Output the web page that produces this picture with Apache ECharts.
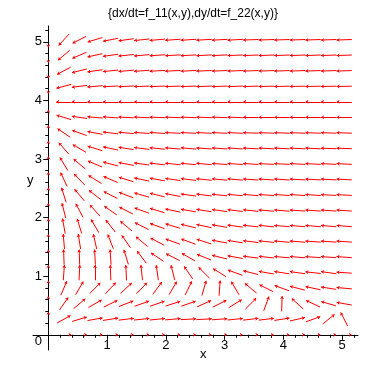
<!DOCTYPE html>
<html><head><meta charset="utf-8">
<script src="https://cdn.jsdelivr.net/npm/echarts@6/dist/echarts.min.js"></script>
<style>html,body{margin:0;padding:0;background:#fff}#c{width:386px;height:367px}</style>
</head><body><div id="c"></div>
<script>
const chartTitle = '{dx/dt=f_11(x,y),dy/dt=f_22(x,y)}';
const xName = 'x';
const yName = 'y';
// sample points of the direction field: i*step, k*step, i,k = 0..19
const step = 0.265;
const xMajorTicks = [1, 2, 3, 4, 5];
const yMajorTicks = [0, 1, 2, 3, 4, 5];
const minorTicks = [0.2,0.4,0.6,0.8,1.2,1.4,1.6,1.8,2.2,2.4,2.6,2.8,3.2,3.4,3.6,3.8,4.2,4.4,4.6,4.8,5.2];
// arrow direction (degrees, 0 = +x, 90 = +y) per row k (y = k*step), columns i = 0..19
const row00 = [null,0,0,0,0,0,0,0,0,0,0,0,0,0,0,0,0,0,0,0];
const row01 = [90,29,17,10,9,7,6,6,5,3,3,4,6,7,7,9,13,20,39,117];
const row02 = [90,55,40,30,26,21,20,19,18,19,24,27,32,45,70,88,137,155,164,170];
const row03 = [90,67,60,45,47,43,46,54,60,64,74,86,120,140,153,160,165,168,171,175];
const row04 = [90,86,87,90,92,93,96,98,104,124,135,148,160,166,170,171,172,174,172,176];
const row05 = [90,92,92,93,94,107,127,146,153,150,158,166,170,173,174,175,175,176,176,176];
const row06 = [90,95,99,103,111,125,140,152,160,160,162,169,171,173,174,175,175,176,176,176];
const row07 = [90,100,107,120,128,140,153,160,163,166,168,170,172,174,174,175,175,175,175,175];
const row08 = [90,104,118,132,145,153,160,163,168,170,171,172,173,174,175,175,176,176,176,176];
const row09 = [90,107,130,142,153,159,164,166,169,172,173,174,175,175,176,176,176,176,177,177];
const row10 = [90,115,134,148,157,163,168,170,172,173,174,175,175,176,176,176,177,177,177,177];
const row11 = [90,121,140,157,165,169,172,173,174,175,175,176,176,176,177,177,177,177,177,177];
const row12 = [90,131,150,163,168,171,173,174,175,175,176,176,176,177,177,177,177,177,178,178];
const row13 = [90,146,160,169,173,175,176,176,177,177,177,177,177,178,178,178,178,178,178,178];
const row14 = [90,163,172,175,176,177,177,178,178,178,178,178,178,179,179,179,179,179,179,179];
const row15 = [null,180,180,180,180,180,180,180,180,180,180,180,180,180,180,180,180,180,180,180];
const row16 = [270,195,187,185,183,183,182,182,182,182,182,182,182,182,181,181,181,181,181,181];
const row17 = [270,208,194,188,186,185,184,183,183,183,182,182,182,182,182,182,182,182,182,182];
const row18 = [270,220,203,192,188,186,185,184,183,183,183,183,182,182,182,182,182,182,182,182];
const row19 = [270,228,207,197,191,188,186,185,184,184,183,183,183,182,182,182,182,182,182,182];

const rows = [row00,row01,row02,row03,row04,row05,row06,row07,row08,row09,
              row10,row11,row12,row13,row14,row15,row16,row17,row18,row19];
const half = step * 0.49;
const arrows = [];      // arrows inside the quadrant
const onAxis = [];      // arrows lying on the axes (shaft hidden by the axis line)
rows.forEach((row, k) => row.forEach((deg, i) => {
  if (deg == null) return;
  const x = i * step, y = k * step, r = deg * Math.PI / 180;
  const item = {coords: [[x - half * Math.cos(r), y - half * Math.sin(r)],
                         [x + half * Math.cos(r), y + half * Math.sin(r)]]};
  (i === 0 || k === 0 ? onAxis : arrows).push(item);
}));

const font = 'Liberation Sans, Arial, sans-serif';
const chart = echarts.init(document.getElementById('c'), null, {renderer: 'canvas'});
const axisBase = (min, max) => ({type: 'value', min, max, splitLine: {show: false}, z: 10});
chart.setOption({
  animation: false,
  backgroundColor: '#fff',
  title: {text: chartTitle, left: 'center', top: 3,
          textStyle: {fontSize: 12, fontWeight: 'normal', color: '#000', fontFamily: font}},
  grid: {left: 33, right: 28, top: 26, bottom: 17, containLabel: false},
  xAxis: [
    Object.assign(axisBase(-0.26, 5.27), {position: 'bottom',
      axisLine: {onZero: true, onZeroAxisIndex: 0, lineStyle: {color: '#000', width: 1}},
      axisTick: {customValues: xMajorTicks, length: 5, lineStyle: {color: '#000'}},
      axisLabel: {customValues: xMajorTicks, margin: -11, color: '#000', fontSize: 13, fontFamily: font}}),
    Object.assign(axisBase(-0.26, 5.27), {position: 'bottom',
      axisLine: {show: false, onZero: true, onZeroAxisIndex: 0},
      axisTick: {customValues: minorTicks, length: 3, lineStyle: {color: '#000'}},
      axisLabel: {show: false}})
  ],
  yAxis: [
    Object.assign(axisBase(-0.26, 5.27), {position: 'left',
      axisLine: {onZero: true, onZeroAxisIndex: 0, lineStyle: {color: '#000', width: 1}},
      axisTick: {customValues: yMajorTicks.filter(v => v !== 0), length: 5, lineStyle: {color: '#000'}},
      axisLabel: {customValues: yMajorTicks, margin: -9, color: '#000', fontSize: 13, fontFamily: font,
        formatter: v => v === 0 ? '{z|0}' : String(v),
        rich: {z: {padding: [13, 0, 0, 0], fontSize: 13, fontFamily: font, color: '#000'}}}}),
    Object.assign(axisBase(-0.26, 5.27), {position: 'left',
      axisLine: {show: false, onZero: true, onZeroAxisIndex: 0},
      axisTick: {customValues: minorTicks, length: 3, lineStyle: {color: '#000'}},
      axisLabel: {show: false}})
  ],
  graphic: [
    {type: 'text', left: 200, top: 348, style: {text: xName, fontSize: 13, fontFamily: font, fill: '#000'}},
    {type: 'text', left: 27, top: 174, style: {text: yName, fontSize: 13, fontFamily: font, fill: '#000'}}
  ],
  series: [{
    type: 'lines', coordinateSystem: 'cartesian2d', xAxisIndex: 0, yAxisIndex: 0,
    polyline: false, silent: true, z: 2,
    symbol: ['none', 'arrow'], symbolSize: 3,
    lineStyle: {color: '#ff0000', width: 1, opacity: 1, curveness: 0},
    data: arrows
  }, {
    type: 'lines', coordinateSystem: 'cartesian2d', xAxisIndex: 0, yAxisIndex: 0,
    polyline: false, silent: true, z: 11,
    symbol: ['none', 'arrow'], symbolSize: 3,
    lineStyle: {color: '#ff0000', width: 0.01, opacity: 1, curveness: 0},
    data: onAxis
  }]
});
</script></body></html>
